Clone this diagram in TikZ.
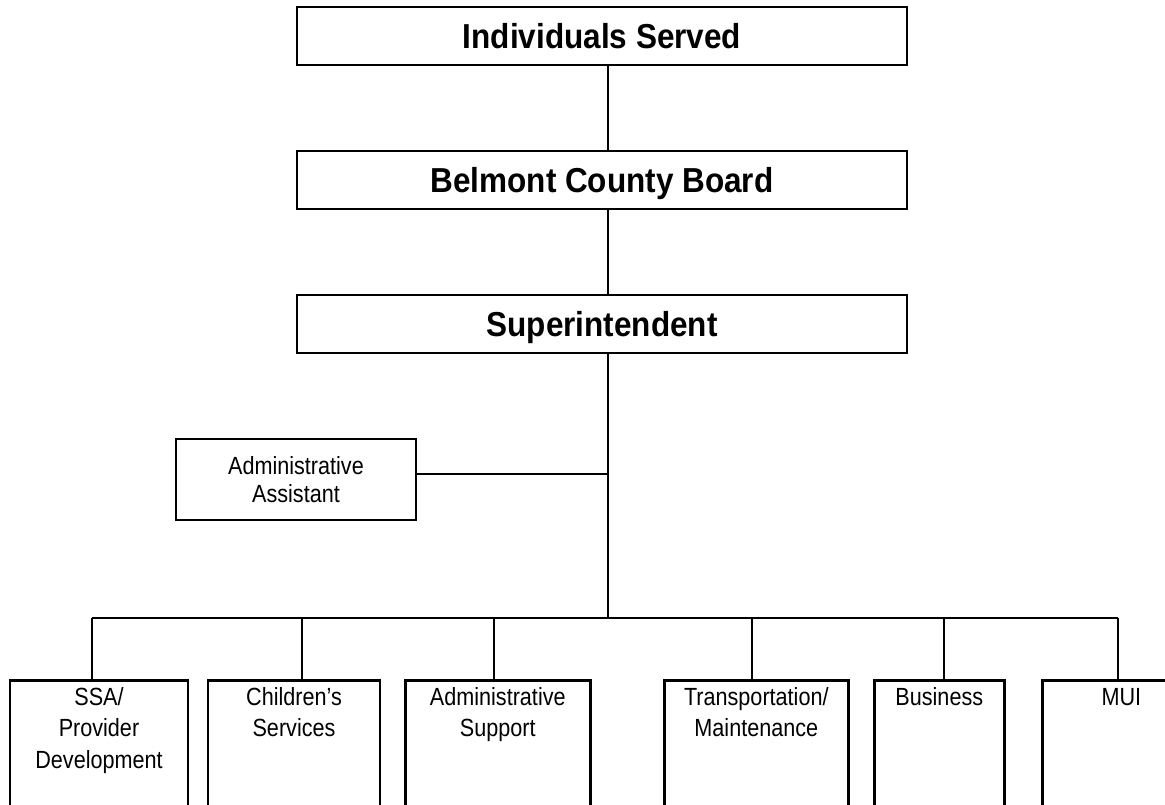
\documentclass[tikz,border=0pt]{standalone}
\usepackage{fontspec}
\setmainfont{Liberation Sans}
\newcommand\vstr[2]{\scalebox{1}[#1]{\begin{tabular}{@{}c@{}}#2\end{tabular}}}
\begin{document}
\begin{tikzpicture}[x=1pt,y=-1pt,
  topbox/.style={draw=black, line width=2.8pt, minimum width=610pt, minimum height=58pt, inner sep=0pt},
  toplbl/.style={inner sep=0pt, font=\fontsize{31.5}{36}\selectfont\bfseries},
  asstbox/.style={draw=black, line width=2.4pt, minimum width=240pt, minimum height=81pt, inner sep=0pt},
  asstlbl/.style={inner sep=0pt, align=center, font=\fontsize{21.6}{24.3}\selectfont},
  botbox/.style={draw=black, line width=2.6pt, minimum height=160pt, inner sep=0pt, anchor=north west},
  botlbl/.style={anchor=north, align=center, inner sep=0pt, font=\fontsize{21.6}{27}\selectfont},
  conn/.style={draw=black, line width=2.4pt}]
\clip (0,0) rectangle (1165,805);
\useasboundingbox (0,0) rectangle (1165,805);
\fill[white] (0,0) rectangle (1165,805);

% top chain
\node[topbox] (ind) at (602,36) {};
\node[topbox] (bel) at (602,180) {};
\node[topbox] (sup) at (602,324) {};
\node[toplbl] (indt) at ([yshift=-4.5pt]ind.center) {\vstr{1.1}{Individuals Served}};
\node[toplbl] (belt) at ([yshift=-4.5pt]bel.center) {\vstr{1.1}{Belmont County Board}};
\node[toplbl] (supt) at ([yshift=-4.5pt]sup.center) {\vstr{1.1}{Superintendent}};

\coordinate (spine) at (608,0);
\coordinate (bus) at (608,617.7);
\draw[conn] (ind.south -| spine) -- (bel.north -| spine);
\draw[conn] (bel.south -| spine) -- (sup.north -| spine);
\draw[conn] (sup.south -| spine) -- (bus);

% administrative assistant
\node[asstbox] (asst) at (296,479.5) {};
\node[asstlbl] (asstt) at ([yshift=-3pt]asst.center) {\vstr{1.15}{Administrative\\Assistant}};
\coordinate (aj) at (608,474);
\draw[conn] (asst.east |- aj) -- (aj);

% bus
\coordinate (d1) at (92,617.7);
\coordinate (d2) at (302,617.7);
\coordinate (d3) at (494,617.7);
\coordinate (d4) at (752,617.7);
\coordinate (d5) at (944,617.7);
\coordinate (d6) at (1118,617.7);
\draw[conn] (d1) -- (d6);

% bottom boxes
\node[botbox, minimum width=178pt] (ssa) at (8.7,679) {};
\node[botbox, minimum width=172pt] (chi) at (206.7,679) {};
\node[botbox, minimum width=185pt] (adm) at (404,679) {};
\node[botbox, minimum width=184pt] (tra) at (663,679) {};
\node[botbox, minimum width=130pt] (bus5) at (873,679) {};
\node[botbox, minimum width=158pt] (mui) at (1041,679) {};

\node[botlbl] (ssat) at ([yshift=-5pt]ssa.north) {\vstr{1.15}{SSA/\\Provider\\Development}};
\node[botlbl] (chit) at ([yshift=-5pt]chi.north) {\vstr{1.15}{Children’s\\Services}};
\node[botlbl] (admt) at ([yshift=-5pt]adm.north) {\vstr{1.15}{Administrative\\Support}};
\node[botlbl] (trat) at ([yshift=-5pt]tra.north) {\vstr{1.15}{Transportation/\\Maintenance}};
\node[botlbl] (bus5t) at ([yshift=-5pt]bus5.north) {\vstr{1.15}{Business}};
\node[botlbl] (muit) at ([yshift=-5pt]mui.north) {\vstr{1.15}{MUI}};

\draw[conn] (d1) -- (ssa.north -| d1);
\draw[conn] (d2) -- (chi.north -| d2);
\draw[conn] (d3) -- (adm.north -| d3);
\draw[conn] (d4) -- (tra.north -| d4);
\draw[conn] (d5) -- (bus5.north -| d5);
\draw[conn] (d6) -- (mui.north -| d6);
\end{tikzpicture}
\end{document}
